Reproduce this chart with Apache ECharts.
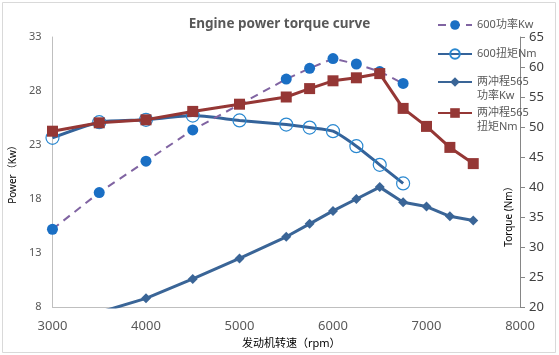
<!DOCTYPE html>
<html>
<head>
<meta charset="utf-8">
<script src="https://cdn.jsdelivr.net/npm/echarts@6/dist/echarts.min.js"></script>
<style>html,body{margin:0;padding:0;background:#fff}#c{width:559px;height:355px}</style>
</head>
<body>
<div id="c"></div>
<script>
// ---- data ----
const titleText = 'Engine power torque curve';
const xTickMin = 3000, xTickMax = 8000, xTickStep = 1000;
const powerTicks = [8, 13, 18, 23, 28, 33];
const torqueTicks = [20, 25, 30, 35, 40, 45, 50, 55, 60, 65];

const seriesNames = ['600功率Kw', '600扭矩Nm', '两冲程565功率Kw', '两冲程565扭矩Nm'];

const rpm600Power = [3000, 3500, 4000, 4500, 5500, 5750, 6000, 6250, 6500, 6750];
const val600Power = [15.2, 18.6, 21.5, 24.4, 29.1, 30.1, 31.0, 30.5, 29.8, 28.7];

const rpm600Torque = [3000, 3500, 4000, 4500, 5000, 5500, 5750, 6000, 6250, 6500, 6750];
const val600Torque = [48.2, 50.8, 51.2, 51.9, 51.1, 50.4, 49.9, 49.3, 46.8, 43.7, 40.6];

const rpm565Power = [3500, 4000, 4500, 5000, 5500, 5750, 6000, 6250, 6500, 6750, 7000, 7250, 7500];
const val565Power = [7.5, 8.8, 10.6, 12.5, 14.5, 15.7, 16.9, 18.0, 19.1, 17.7, 17.3, 16.4, 16.0];

const rpm565Torque = [3000, 3500, 4000, 4500, 5000, 5500, 5750, 6000, 6250, 6500, 6750, 7000, 7250, 7500];
const val565Torque = [49.3, 50.7, 51.2, 52.6, 53.8, 55.0, 56.4, 57.7, 58.2, 58.9, 53.1, 50.1, 46.6, 43.9];

const pair = (xs, ys) => xs.map((x, i) => [x, ys[i]]);

const FONT = "'Noto Sans', 'Noto Sans CJK SC', sans-serif";
const chart = echarts.init(document.getElementById('c'), null, {renderer: 'canvas'});

const legendText = {color: '#595959', fontSize: 11, fontFamily: FONT, lineHeight: 14};
const legendBase = {
  orient: 'vertical', left: 432, itemWidth: 34, itemHeight: 12, itemGap: 5,
  textStyle: legendText
};
// two-line legend label, icon aligned with the first line
const legendWrap = (name) => ' \n' + name.replace('565', '565\n');

chart.setOption({
  animation: false,
  backgroundColor: '#fff',
  title: {
    text: titleText, left: 'center', top: 12,
    textStyle: {color: '#595959', fontSize: 13.5, fontWeight: 'bold', fontFamily: FONT}
  },
  legend: [
    Object.assign({}, legendBase, {top: 13, data: [seriesNames[0]]}),
    Object.assign({}, legendBase, {top: 42, data: [seriesNames[1]]}),
    Object.assign({}, legendBase, {top: 56, data: [seriesNames[2]], formatter: legendWrap}),
    Object.assign({}, legendBase, {top: 87, data: [seriesNames[3]], formatter: legendWrap})
  ],
  grid: {left: 45, right: 39, top: 37, bottom: 48, containLabel: false},
  xAxis: {
    type: 'value', min: xTickMin, max: xTickMax, interval: xTickStep,
    name: '发动机转速（rpm）', nameLocation: 'middle', nameGap: 31,
    nameTextStyle: {color: '#000', fontSize: 11, fontFamily: FONT, padding: [0, 0, 0, 10]},
    axisLine: {show: true, lineStyle: {color: '#bfbfbf', width: 1}},
    axisTick: {show: false},
    axisLabel: {color: '#595959', fontSize: 13, fontFamily: FONT, margin: 13,
                formatter: (v) => String(v)},
    splitLine: {show: false}
  },
  yAxis: [
    {
      type: 'value', position: 'left',
      min: powerTicks[0], max: powerTicks[powerTicks.length - 1],
      interval: powerTicks[1] - powerTicks[0],
      name: 'Power（Kw）', nameLocation: 'middle', nameGap: 27, nameRotate: 90,
      nameTextStyle: {color: '#000', fontSize: 10, fontFamily: FONT},
      axisLine: {show: true, lineStyle: {color: '#bfbfbf', width: 1}},
      axisTick: {show: false},
      axisLabel: {color: '#595959', fontSize: 11, fontFamily: FONT, margin: 11},
      splitLine: {show: false}
    },
    {
      type: 'value', position: 'right',
      min: torqueTicks[0], max: torqueTicks[torqueTicks.length - 1],
      interval: torqueTicks[1] - torqueTicks[0],
      axisLine: {show: true, lineStyle: {color: '#868686', width: 1}},
      axisTick: {show: true, inside: false, length: 5, lineStyle: {color: '#868686'}},
      axisLabel: {color: '#404040', fontSize: 13, fontFamily: FONT, margin: 9},
      splitLine: {show: false}
    }
  ],
  graphic: [
    {type: 'rect', shape: {x: 2.5, y: 2.5, width: 553, height: 350},
     style: {fill: 'none', stroke: '#d9d9d9', lineWidth: 1}, silent: true, z: -1},
    {type: 'text', x: 509, y: 214, rotation: Math.PI / 2,
     style: {text: 'Torque (Nm）', fill: '#000', fontSize: 10, fontFamily: FONT,
             textAlign: 'center', textVerticalAlign: 'middle'}}
  ],
  series: [
    {
      name: seriesNames[0], type: 'line', yAxisIndex: 0,
      data: pair(rpm600Power, val600Power),
      symbol: 'circle', symbolSize: 11,
      itemStyle: {color: '#1a6fc4'},
      lineStyle: {color: '#8064a2', width: 2, type: [8, 6]},
      z: 4
    },
    {
      name: seriesNames[1], type: 'line', yAxisIndex: 1,
      data: pair(rpm600Torque, val600Torque),
      smooth: 0.2,
      symbol: 'circle', symbolSize: 13,
      itemStyle: {color: 'rgba(255,255,255,0)', borderColor: '#2a88d0', borderWidth: 1.2},
      lineStyle: {color: '#34639a', width: 3},
      z: 3
    },
    {
      name: seriesNames[2], type: 'line', yAxisIndex: 0,
      data: pair(rpm565Power, val565Power),
      symbol: 'diamond', symbolSize: 10,
      itemStyle: {color: '#3a6597'},
      lineStyle: {color: '#3a6597', width: 3},
      z: 3
    },
    {
      name: seriesNames[3], type: 'line', yAxisIndex: 1,
      data: pair(rpm565Torque, val565Torque),
      symbol: 'rect', symbolSize: 11,
      itemStyle: {color: '#953735'},
      lineStyle: {color: '#953735', width: 3},
      z: 5
    }
  ]
});
</script>
</body>
</html>
